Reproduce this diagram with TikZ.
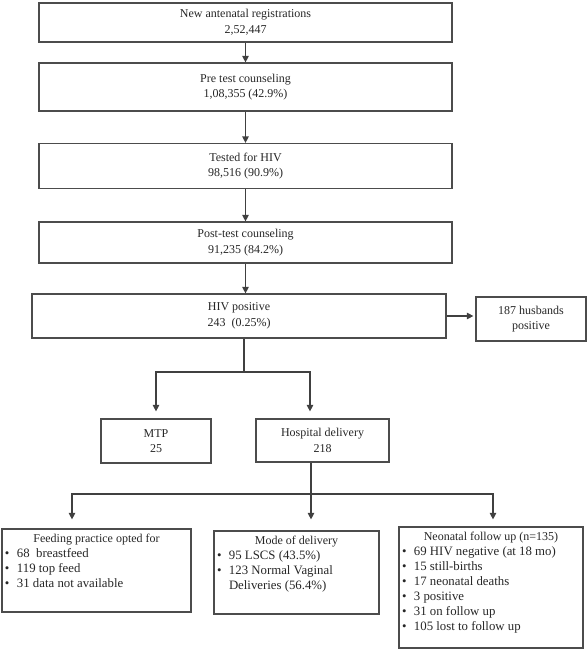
\documentclass[tikz,border=0pt]{standalone}
\usepackage{fontspec}
\setmainfont{Liberation Serif}
\usetikzlibrary{arrows.meta}
\newcommand{\itm}[1]{\makebox[12pt][l]{\textbullet}#1}
\newcommand{\itemfont}{\fontsize{12.8}{15}\selectfont}
\begin{document}
\begin{tikzpicture}[x=1pt,y=-1pt,
  every node/.style={font=\fontsize{12}{15.6}\selectfont, text=black!85},
  box/.style={draw=black!70, line width=1.2pt, inner sep=0pt, align=center},
  listbox/.style={box, inner xsep=3pt, inner ysep=5pt},
  conn/.style={draw=black!75, line width=1.2pt},
  arr/.style={conn, -{Triangle[length=6.5pt,width=6.5pt]}}]
\useasboundingbox (0,0) rectangle (588,650);

\node[box, minimum width=413pt, minimum height=39pt] (reg) at (245.5,22.5) {New antenatal registrations\\2,52,447};
\node[box, minimum width=413pt, minimum height=48pt] (pre) at (245.5,87) {Pre test counseling\\1,08,355 (42.9\%)};
\node[box, minimum width=413pt, minimum height=45pt] (test) at (245.5,166) {Tested for HIV\\98,516 (90.9\%)};
\node[box, minimum width=413pt, minimum height=41pt] (post) at (245.5,242.5) {Post-test counseling\\91,235 (84.2\%)};
\node[box, minimum width=414pt, minimum height=44pt] (hiv) at (239,316) {HIV positive\\243\ \ (0.25\%)};
\node[box, minimum width=110pt, minimum height=44pt] (husb) at (531,319) {187 husbands\\positive};
\node[box, minimum width=110pt, minimum height=44pt] (mtp) at (156,441) {MTP\\25};
\node[box, minimum width=133pt, minimum height=43pt] (hosp) at (322.5,440.5) {Hospital delivery\\218};

\node[listbox, minimum width=189pt, minimum height=83pt] (feed) at (96.5,570.5)
  {\parbox[c][73pt][t]{183pt}{\centering Feeding practice opted for\par\raggedright\itemfont
   \itm{68\ \ breastfeed}\\ \itm{119 top feed}\\ \itm{31 data not available}}};
\node[listbox, minimum width=165pt, minimum height=83pt] (mode) at (296.5,572.5)
  {\parbox[c][73pt][t]{159pt}{\centering Mode of delivery\par\raggedright\itemfont
   \itm{95 LSCS (43.5\%)}\\ \itm{123 Normal Vaginal}\\ \hspace*{12pt}Deliveries (56.4\%)}};
\node[listbox, minimum width=184pt, minimum height=121pt] (neo) at (491,587.5)
  {\parbox[c][111pt][t]{178pt}{\centering Neonatal follow up (n=135)\par\raggedright\itemfont
   \itm{69 HIV negative (at 18 mo)}\\ \itm{15 still-births}\\ \itm{17 neonatal deaths}\\
   \itm{3 positive}\\ \itm{31 on follow up}\\ \itm{105 lost to follow up}}};

\draw[arr] (reg) -- (pre);
\draw[arr] (pre) -- (test);
\draw[arr] (test) -- (post);
\draw[arr] (post.south) -- (post.south |- hiv.north);
\draw[arr, shorten >=2pt] (hiv.east) -- (hiv.east -| husb.west);

\coordinate (j1) at (244,372);
\coordinate (hx) at (310,0);
\draw[conn] (hiv.south -| j1) -- (j1);
\draw[arr, shorten >=7pt] (j1) -| (mtp.north);
\draw[arr, shorten >=7pt] (j1) -| (hx |- hosp.north);

\coordinate (j2) at (311,494);
\coordinate (fx) at (72,0);
\coordinate (nx) at (493,0);
\draw[conn] (hosp.south -| j2) -- (j2);
\draw[arr, shorten >=9pt] (j2) -| (fx |- feed.north);
\draw[arr, shorten >=11pt] (j2) -- (j2 |- mode.north);
\draw[arr, shorten >=7pt] (j2) -| (nx |- neo.north);
\end{tikzpicture}
\end{document}
